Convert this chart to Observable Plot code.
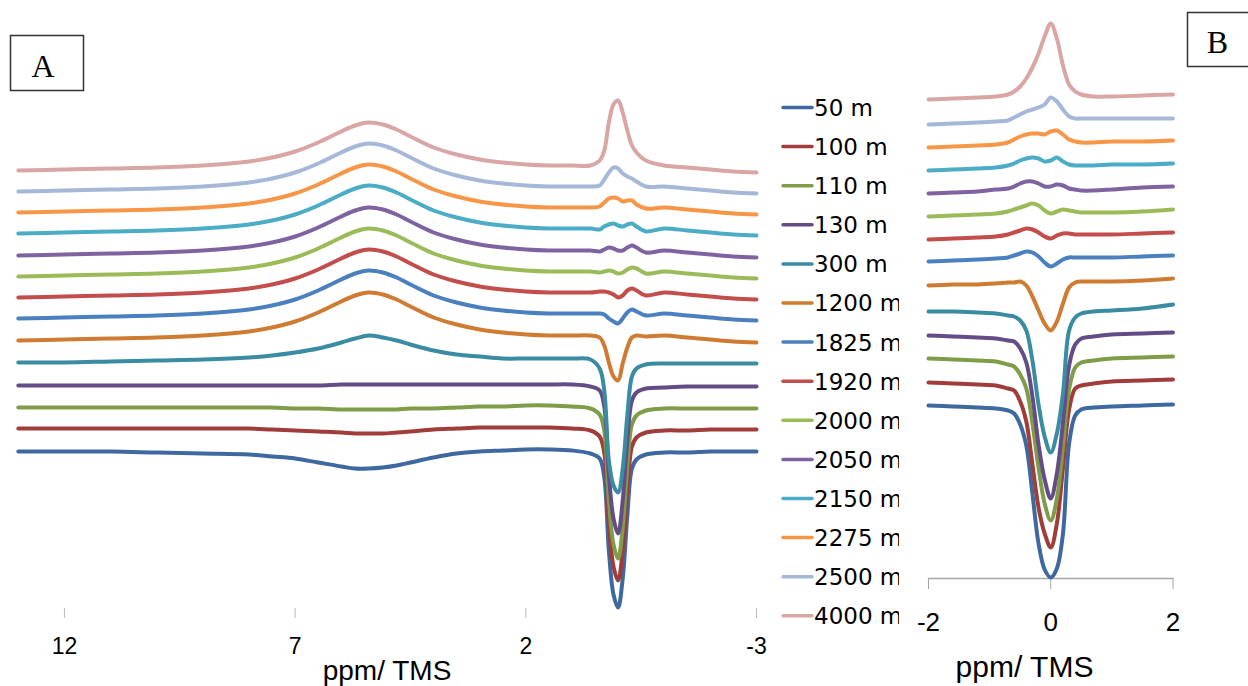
<!DOCTYPE html>
<html>
<head>
<meta charset="utf-8">
<script src="https://cdn.jsdelivr.net/npm/d3@7"></script>
<script src="https://cdn.jsdelivr.net/npm/@observablehq/plot@0.6"></script>
<style>
  html, body { margin: 0; padding: 0; background: #fff; }
  #root { position: relative; width: 1248px; height: 686px; overflow: hidden; background: #fff; }
  #root > * { position: absolute; top: 0; }
</style>
</head>
<body>
<div id="root"></div>
<script>
// ---- series (legend order) ----
const seriesNames = ["50 m","100 m","110 m","130 m","300 m","1200 m","1825 m","1920 m","2000 m","2050 m","2150 m","2275 m","2500 m","4000 m"];
const seriesColors = ["#3E69A0","#A03C39","#7F9C48","#644D86","#3A8CA3","#D07B32","#4A7FC0","#C24D4A","#9BBB59","#7F63A1","#4BACC6","#F79646","#A6B8D8","#D9A6A5"];

// ---- panel A : chemical shift (ppm / TMS) and stacked intensities (a.u.) ----
const ticksA = [12, 7, 2, -3];
const ppmA = [13, 12, 11, 10, 9, 8, 7.5, 7, 6.5, 6, 5.7, 5.4, 5.1, 4.8, 4.5, 4, 3.5, 3, 2.5, 2, 1.5, 1, 0.6, 0.4, 0.3, 0.2, 0.1, 0, -0.1, -0.2, -0.3, -0.4, -0.6, -1, -1.5, -2, -2.5, -3];
const a50   = [189,189,189,188,187,186,184,182,178,174,172,172,173,175,178,183,187,189,190,191,191,190,187, 182,163,90,46,33,62,125,172,181,186, 188,188,189,189,189];
const a100  = [212,212,212,212,212,212,211,210,209,208,207,207,207,208,209,211,212,213,213,213,213,212,210, 204,188,118,74,60,90,150,194,203,208, 210,210,211,211,211];
const a110  = [233,233,233,233,233,233,233,232,232,231,231,231,231,231,232,232,233,234,234,235,235,234,232, 226,210,140,96,82,113,174,216,225,230, 232,232,232,232,232];
const a130  = [255,255,255,255,255,255,255,255,255,256,256,256,256,256,256,256,256,256,256,256,256,256,254, 250,234,166,122,107,140,200,240,248,252, 253,254,254,254,254];
const a300  = [278,278,279,280,281,283,285,288,292,298,302,305,303,300,296,290,286,284,282,282,282,282,281, 272,250,180,155,148,172,225,264,272,276, 277,277,277,277,277];
const a1200 = [300,301,302,303,305,309,313,319,328,339,345,348,346,341,334,323,316,311,308,306,305,305,305, 303,295,278,264,260,277,293,303,305,304, 305,303,301,299,298];
const a1825 = [322,323,324,325,327,331,335,341,350,361,367,370,368,363,356,345,338,333,330,328,327,327,327, 327,326,322,319,317,322,328,331,329,325, 327,325,323,321,320];
const a1920 = [343,344,345,346,348,352,356,362,371,382,388,391,389,384,377,366,359,354,351,349,348,348,348, 349,349,348,346,343,345,350,352,350,345, 348,346,344,342,341];
const a2000 = [364,365,366,367,369,373,377,383,392,403,409,412,410,405,398,387,380,375,372,370,369,369,369, 368,369,370,369,367,368,371,373,372,367, 369,367,365,363,362];
const a2050 = [385,386,387,388,390,394,398,404,413,424,430,433,431,426,419,408,401,396,393,391,390,390,390, 389,391,393,392,390,390,393,395,393,388, 390,388,386,384,383];
const a2150 = [407,408,409,410,412,416,420,426,435,446,452,455,453,448,441,430,423,418,415,413,412,412,412, 411,414,416,417,415,414,416,417,414,409, 412,410,408,406,405];
const a2275 = [428,429,430,431,433,437,441,447,456,467,473,476,474,469,462,451,444,439,436,434,433,433,433, 434,438,442,443,442,439,440,440,436,432, 433,431,429,427,426];
const a2500 = [449,450,451,452,454,458,462,468,477,488,494,497,495,490,483,472,465,460,457,455,454,454,454, 455,461,468,473,472,467,464,462,459,454, 454,452,450,448,447];
const a4000 = [470,471,472,473,475,479,483,489,498,509,515,518,516,511,504,493,486,481,478,476,475,475,475, 480,490,518,536,540,528,510,495,488,480, 475,473,471,469,468];

// ---- panel B : zoom on the TMS region ----
const ticksB = [-2, 0, 2];
const ppmB = [-2, -1.6, -1.2, -0.9, -0.7, -0.6, -0.5, -0.4, -0.3, -0.2, -0.1, 0, 0.1, 0.2, 0.3, 0.4, 0.5, 0.7, 1, 1.5, 2];
const b50   = [195,194,193,192,190,187,176,155,107,57,31,23,32,67,157,185,191,193,194,195,196];
const b100  = [218,217,216,215,212,210,199,179,136,93,67,53,77,133,191,212,215,217,219,220,221];
const b110  = [242,241,240,239,236,234,226,212,177,133,97,80,102,153,211,233,238,240,242,243,244];
const b130  = [265,264,263,262,260,259,252,238,204,156,121,102,127,178,235,256,262,264,266,267,268];
const b300  = [289,289,288,287,285,284,280,270,240,196,164,148,167,207,270,283,287,289,290,292,296];
const b1200 = [315,316,316,317,318,318,319,315,304,290,277,270,279,297,313,318,319,319,319,320,322];
const b1825 = [339,340,341,342,343,345,347,349,348,344,338,334,337,341,343,343,343,343,343,344,345];
const b1920 = [361,362,363,364,366,368,370,372,371,368,364,362,365,367,367,366,366,366,366,367,368];
const b2000 = [384,385,386,387,389,391,393,395,397,395,390,387,389,391,390,389,388,388,388,389,391];
const b2050 = [407,408,409,411,412,414,417,419,419,417,414,414,416,415,412,411,410,410,411,413,414];
const b2150 = [430,431,432,433,435,437,440,442,443,442,439,440,443,439,436,435,435,435,436,436,437];
const b2275 = [453,454,455,456,458,461,464,466,467,467,466,469,470,466,461,459,458,458,459,459,460];
const b2500 = [476,477,478,479,480,483,486,489,491,493,496,503,499,491,484,482,482,482,482,482,482];
const b4000 = [501,502,503,504,506,509,514,522,533,547,564,577,562,535,516,509,506,504,504,505,506];

const axisTitle = "ppm/ TMS";
const panelLabels = ["A", "B"];

const specA = [a50,a100,a110,a130,a300,a1200,a1825,a1920,a2000,a2050,a2150,a2275,a2500,a4000];
const specB = [b50,b100,b110,b130,b300,b1200,b1825,b1920,b2000,b2050,b2150,b2275,b2500,b4000];
const toRows = (ppm, vals, name) => ppm.map((p, i) => ({ppm: p, v: vals[i], series: name}));

const root = document.getElementById("root");
const baseStyle = {fontFamily: "'Liberation Sans', Arial, sans-serif", background: "transparent", overflow: "visible", color: "#000"};
const LW = 4;

// Panel A
const plotA = Plot.plot({
  width: 770, height: 686,
  marginTop: 0, marginRight: 14, marginBottom: 78, marginLeft: 17.8,
  style: baseStyle,
  x: {domain: [13, -3], label: null},
  y: {domain: [0, 640], range: [640, 0], axis: null},
  marks: [
    Plot.axisX(ticksA, {anchor: "bottom", tickSize: 10, tickPadding: 19, tickFormat: d => String(d),
      stroke: "#bdbdbd", fill: "#000", fontSize: 23, label: null}),
    ...seriesNames.map((name, k) => Plot.line(toRows(ppmA, specA[k], name),
      {x: "ppm", y: "v", stroke: seriesColors[k], strokeWidth: LW, curve: "catmull-rom"}))
  ]
});
plotA.style.left = "0px";
root.appendChild(plotA);

// Panel B
const plotB = Plot.plot({
  width: 300, height: 686,
  marginTop: 0, marginRight: 32.5, marginBottom: 108, marginLeft: 23,
  style: baseStyle,
  x: {domain: [-2, 2], label: null},
  y: {domain: [0, 600], range: [600, 0], axis: null},
  marks: [
    Plot.frame({anchor: "bottom", stroke: "#a6a6a6", strokeWidth: 1.3}),
    Plot.axisX(ticksB, {anchor: "bottom", tickSize: 11, tickPadding: 23, tickFormat: d => String(d),
      stroke: "#a6a6a6", fill: "#000", fontSize: 26, label: null}),
    ...seriesNames.map((name, k) => Plot.line(toRows(ppmB, specB[k], name),
      {x: "ppm", y: "v", stroke: seriesColors[k], strokeWidth: LW, curve: "catmull-rom"}))
  ]
});
plotB.style.left = "905px";
root.appendChild(plotB);

// Overlay: panel boxes, legend, axis titles
const svg = d3.select(root).append("svg")
  .attr("width", 1248).attr("height", 686)
  .style("left", "0px").style("pointer-events", "none");

svg.append("defs").append("clipPath").attr("id", "legclip")
  .append("rect").attr("x", 770).attr("y", 0).attr("width", 129).attr("height", 686);

// Box A
svg.append("rect").attr("x", 10.5).attr("y", 35.5).attr("width", 73).attr("height", 55)
  .attr("fill", "none").attr("stroke", "#333").attr("stroke-width", 1.5);
svg.append("text").attr("x", 43).attr("y", 77).attr("text-anchor", "middle")
  .attr("font-family", "'Liberation Serif', 'Times New Roman', serif").attr("font-size", 32)
  .text(panelLabels[0]);
// Box B
svg.append("rect").attr("x", 1187.5).attr("y", 12.5).attr("width", 80).attr("height", 54)
  .attr("fill", "none").attr("stroke", "#333").attr("stroke-width", 1.5);
svg.append("text").attr("x", 1217.5).attr("y", 53).attr("text-anchor", "middle")
  .attr("font-family", "'Liberation Serif', 'Times New Roman', serif").attr("font-size", 32)
  .text(panelLabels[1]);

// Legend
const leg = svg.append("g").attr("clip-path", "url(#legclip)");
seriesNames.forEach((name, k) => {
  const c = 107.5 + k * 39.1;
  leg.append("line").attr("x1", 783).attr("x2", 812).attr("y1", c).attr("y2", c)
    .attr("stroke", seriesColors[k]).attr("stroke-width", 3.5).attr("stroke-linecap", "round");
  leg.append("text").attr("x", 814).attr("y", c + 8.4)
    .attr("font-family", "'DejaVu Sans', sans-serif").attr("font-size", 23).attr("fill", "#000")
    .text(name);
});

// Axis titles
svg.append("text").attr("x", 387).attr("y", 680).attr("text-anchor", "middle")
  .attr("font-family", "'Liberation Sans', Arial, sans-serif").attr("font-size", 28).text(axisTitle);
svg.append("text").attr("x", 1024.5).attr("y", 677).attr("text-anchor", "middle")
  .attr("font-family", "'Liberation Sans', Arial, sans-serif").attr("font-size", 30).text(axisTitle);
</script>
</body>
</html>
